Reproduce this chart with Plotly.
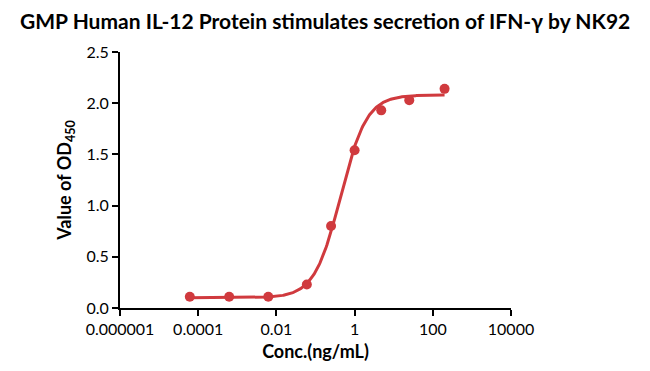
import numpy as np
import plotly.graph_objects as go

conc = [6.1e-5, 6.2e-4, 6.2e-3, 0.060, 0.25, 1.0, 4.8, 25.0, 200.0]
od450 = [0.11, 0.11, 0.11, 0.23, 0.80, 1.54, 1.93, 2.03, 2.14]

# 4-parameter logistic fit parameters
fit_bottom = 0.10
fit_top = 2.08
fit_log_ec50 = -0.36
fit_hill = 1.3

x_tick_vals = [1e-6, 1e-4, 1e-2, 1, 100, 10000]
x_tick_text = ["0.000001", "0.0001", "0.01", "1", "100", "10000"]
y_tick_vals = [0.0, 0.5, 1.0, 1.5, 2.0, 2.5]
y_tick_text = ["0.0", "0.5", "1.0", "1.5", "2.0", "2.5"]

color = "#D03A3E"
font_family = "Lato, 'Open Sans', sans-serif"

lx = np.linspace(np.log10(conc[0]), np.log10(conc[-1]), 300)
fit_y = fit_bottom + (fit_top - fit_bottom) / (1 + 10 ** ((fit_log_ec50 - lx) * fit_hill))

fig = go.Figure()
fig.add_trace(go.Scatter(x=10 ** lx, y=fit_y, mode="lines",
                         line=dict(color=color, width=3), hoverinfo="skip",
                         showlegend=False))
fig.add_trace(go.Scatter(x=conc, y=od450, mode="markers",
                         marker=dict(color=color, size=10), showlegend=False))

# page body has an 8px default margin, so the figure is sized to compensate
fig.update_layout(
    width=642, height=363,
    margin=dict(l=112, r=139, t=44, b=56),
    paper_bgcolor="white", plot_bgcolor="white",
    font=dict(family=font_family, color="black"),
    title=dict(text="<b>GMP Human IL-12 Protein stimulates secretion of IFN-γ by NK92</b>",
               x=0.494, xanchor="center", xref="container", y=1 - 14 / 363, yref="container",
               yanchor="middle",
               font=dict(size=21, family=font_family, color="black")),
)
fig.update_xaxes(type="log", range=[-6, 4], tickvals=x_tick_vals, ticktext=x_tick_text,
                 showline=True, linecolor="black", linewidth=2,
                 ticks="outside", ticklen=6, tickwidth=2, tickcolor="black",
                 showgrid=False, zeroline=False,
                 tickfont=dict(size=16, family=font_family, color="black"),
                 title=dict(text="<b>Conc.(ng/mL)</b>", standoff=8,
                            font=dict(size=18, family=font_family, color="black")))
fig.update_yaxes(range=[0, 2.5], tickvals=y_tick_vals, ticktext=y_tick_text,
                 showline=True, linecolor="black", linewidth=2,
                 ticks="outside", ticklen=6, tickwidth=2, tickcolor="black",
                 showgrid=False, zeroline=False,
                 tickfont=dict(size=16, family=font_family, color="black"),
                 title=dict(text="<b>Value of OD<sub>450</sub></b>", standoff=10,
                            font=dict(size=18, family=font_family, color="black")))

fig.write_html("out.html")
